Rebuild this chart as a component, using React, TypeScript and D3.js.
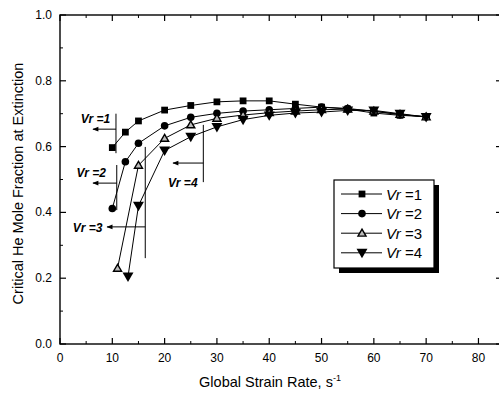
import React from "react";
import * as d3 from "d3";

const strainX1 = [10, 12.5, 15, 20, 25, 30, 35, 40, 45, 50, 55, 60, 65, 70];
const vr1 = [0.597, 0.644, 0.678, 0.711, 0.725, 0.736, 0.739, 0.739, 0.729, 0.72, 0.714, 0.702, 0.695, 0.691];
const strainX2 = [10, 12.5, 15, 20, 25, 30, 35, 40, 45, 50, 55, 60, 65, 70];
const vr2 = [0.412, 0.554, 0.61, 0.663, 0.689, 0.701, 0.708, 0.712, 0.716, 0.72, 0.716, 0.707, 0.697, 0.691];
const strainX3 = [11, 15, 20, 25, 30, 35, 40, 45, 50, 55, 60, 65, 70];
const vr3 = [0.23, 0.543, 0.625, 0.666, 0.686, 0.696, 0.703, 0.708, 0.712, 0.714, 0.708, 0.698, 0.69];
const strainX4 = [13, 15, 20, 25, 30, 35, 40, 45, 50, 55, 60, 65, 70];
const vr4 = [0.205, 0.42, 0.588, 0.63, 0.66, 0.682, 0.695, 0.702, 0.705, 0.71, 0.71, 0.7, 0.69];

const seriesNames = ["1", "2", "3", "4"];
const xTicks = [0, 10, 20, 30, 40, 50, 60, 70, 80];
const yTicks = [0.0, 0.2, 0.4, 0.6, 0.8, 1.0];

const annLabels = ["1", "2", "3", "4"];
const annLineX = [10.7, 10.85, 16.3, 27.4];
const annYTop = [0.70, 0.544, 0.599, 0.666];
const annYBot = [0.58, 0.407, 0.261, 0.492];
const annArrowY = [0.653, 0.489, 0.356, 0.55];
const annArrowTo = [6.3, 6.3, 9.0, 21.6];
const annTextX = [9.6, 8.8, 8.1, 26.3];
const annTextY = [0.672, 0.508, 0.34, 0.477];

const W = 499, H = 396;
const M = { left: 60, top: 15, right: 502, bottom: 344 };
const FONT = "'Liberation Sans', Arial, sans-serif";

export default function App() {
  const x = d3.scaleLinear().domain([0, 84.5]).range([M.left, M.right]);
  const y = d3.scaleLinear().domain([0, 1]).range([M.bottom, M.top]);
  const line = d3.line<[number, number]>().x(d => x(d[0])).y(d => y(d[1]));

  const series = [
    { xs: strainX1, ys: vr1, sym: "square" },
    { xs: strainX2, ys: vr2, sym: "circle" },
    { xs: strainX3, ys: vr3, sym: "tri" },
    { xs: strainX4, ys: vr4, sym: "itri" },
  ];

  const marker = (sym: string, cx: number, cy: number, key: string) => {
    if (sym === "square") {
      return <path key={key} d={d3.symbol().type(d3.symbolSquare).size(46)()!} transform={`translate(${cx},${cy})`} fill="#000" />;
    }
    if (sym === "circle") {
      return <circle key={key} cx={cx} cy={cy} r={3.8} fill="#000" />;
    }
    if (sym === "tri") {
      return <path key={key} d={d3.symbol().type(d3.symbolTriangle).size(28)()!} transform={`translate(${cx},${cy + 0.6})`} fill="#bbb" stroke="#000" strokeWidth={1.4} />;
    }
    return <path key={key} d={d3.symbol().type(d3.symbolTriangle).size(52)()!} transform={`translate(${cx},${cy - 0.8}) rotate(180)`} fill="#000" />;
  };

  const xMinor = d3.range(5, 85, 10);
  const yMinor = d3.range(0.1, 1.0, 0.2);

  return (
    <svg width={W} height={H} style={{ position: "absolute", left: 0, top: 0, background: "#fff" }} fontFamily={FONT}>
      <defs>
        <marker id="arr" viewBox="0 0 10 10" refX="9" refY="5" markerWidth="7" markerHeight="6" orient="auto" markerUnits="userSpaceOnUse">
          <path d="M0,1 L10,5 L0,9 Z" fill="#000" />
        </marker>
      </defs>
      <rect x={0} y={0} width={W} height={H} fill="#fff" />
      <rect x={M.left} y={M.top} width={M.right - M.left} height={M.bottom - M.top} fill="none" stroke="#000" strokeWidth={1.4} />
      {xTicks.map(t => (
        <g key={"xt" + t}>
          <line x1={x(t)} x2={x(t)} y1={M.bottom} y2={M.bottom - 6} stroke="#000" strokeWidth={1.2} />
          <line x1={x(t)} x2={x(t)} y1={M.top} y2={M.top + 6} stroke="#000" strokeWidth={1.2} />
          <text x={x(t)} y={M.bottom + 18} textAnchor="middle" fontSize={12}>{t}</text>
        </g>
      ))}
      {xMinor.map(t => (
        <g key={"xm" + t}>
          <line x1={x(t)} x2={x(t)} y1={M.bottom} y2={M.bottom - 3} stroke="#000" strokeWidth={1} />
          <line x1={x(t)} x2={x(t)} y1={M.top} y2={M.top + 3} stroke="#000" strokeWidth={1} />
        </g>
      ))}
      {yTicks.map(t => (
        <g key={"yt" + t}>
          <line x1={M.left} x2={M.left + 6} y1={y(t)} y2={y(t)} stroke="#000" strokeWidth={1.2} />
          <line x1={M.right} x2={M.right - 6} y1={y(t)} y2={y(t)} stroke="#000" strokeWidth={1.2} />
          <text x={M.left - 8} y={y(t) + 4} textAnchor="end" fontSize={12}>{t.toFixed(1)}</text>
        </g>
      ))}
      {yMinor.map(t => (
        <g key={"ym" + t}>
          <line x1={M.left} x2={M.left + 3} y1={y(t)} y2={y(t)} stroke="#000" strokeWidth={1} />
          <line x1={M.right} x2={M.right - 3} y1={y(t)} y2={y(t)} stroke="#000" strokeWidth={1} />
        </g>
      ))}
      <text x={270} y={387} textAnchor="middle" fontSize={14.5}>
        Global Strain Rate, s<tspan dy={-6} fontSize={9}>-1</tspan>
      </text>
      <text transform={`translate(23,${(M.top + M.bottom) / 2 + 4}) rotate(-90)`} textAnchor="middle" fontSize={14.5}>
        Critical He Mole Fraction at Extinction
      </text>
      {series.map((s, i) => (
        <g key={"s" + i}>
          <path d={line(s.xs.map((v, j) => [v, s.ys[j]] as [number, number]))!} fill="none" stroke="#000" strokeWidth={1} />
          {s.xs.map((v, j) => marker(s.sym, x(v), y(s.ys[j]), `m${i}-${j}`))}
        </g>
      ))}
      {annLabels.map((lab, i) => (
        <g key={"a" + i}>
          <line x1={x(annLineX[i])} x2={x(annLineX[i])} y1={y(annYTop[i])} y2={y(annYBot[i])} stroke="#000" strokeWidth={1} />
          <line x1={x(annLineX[i])} x2={x(annArrowTo[i])} y1={y(annArrowY[i])} y2={y(annArrowY[i])} stroke="#000" strokeWidth={1} markerEnd="url(#arr)" />
          <text x={x(annTextX[i])} y={y(annTextY[i])} textAnchor="end" fontSize={12} fontWeight="bold" fontStyle="italic">
            Vr =<tspan>{lab}</tspan>
          </text>
        </g>
      ))}
      <g>
        <rect x={339} y={185} width={100} height={88} fill="#000" />
        <rect x={334} y={180} width={100} height={88} fill="#fff" stroke="#000" strokeWidth={1.2} />
        {seriesNames.map((n, i) => {
          const ly = 194 + i * 19.6;
          return (
            <g key={"l" + i}>
              <line x1={341} x2={382} y1={ly} y2={ly} stroke="#000" strokeWidth={1} />
              {marker(series[i].sym, 362, ly, "lm" + i)}
              <text x={386} y={ly + 5.5} fontSize={15}>
                <tspan fontStyle="italic">Vr</tspan> =<tspan>{n}</tspan>
              </text>
            </g>
          );
        })}
      </g>
    </svg>
  );
}
